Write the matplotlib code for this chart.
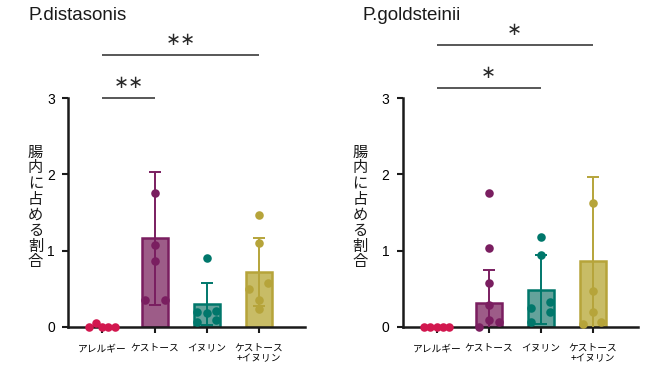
import matplotlib
matplotlib.use("Agg")
import matplotlib.pyplot as plt
import numpy as np

# ---------------- data ----------------
categories = ['アレルギー', 'ケストース', 'イヌリン', 'ケストース\n+イヌリン']

dist_title = 'P.distasonis'
dist_mean = [0.01, 1.16, 0.30, 0.72]
dist_sd = [0.02, 0.87, 0.28, 0.45]
dist_points = [
    [0.0, 0.05, 0.0, 0.0, 0.0],
    [1.75, 1.07, 0.87, 0.35, 0.35],
    [0.90, 0.20, 0.18, 0.21, 0.07, 0.09],
    [1.47, 1.10, 0.50, 0.58, 0.35, 0.24],
]
dist_sig = [(0, 1, 3.0, '∗∗'), (0, 3, 3.56, '∗∗')]

gold_title = 'P.goldsteinii'
gold_mean = [0.0, 0.32, 0.49, 0.87]
gold_sd = [0.0, 0.43, 0.45, 1.10]
gold_points = [
    [0.0, 0.0, 0.0, 0.0, 0.0],
    [1.75, 1.03, 0.57, 0.29, 0.09, 0.0, 0.06],
    [1.18, 0.94, 0.33, 0.25, 0.20, 0.06],
    [1.62, 0.47, 0.19, 0.04, 0.07],
]
gold_sig = [(0, 2, 3.13, '∗'), (0, 3, 3.69, '∗')]

ylabel = '腸内に占める割合'
yticks = [0, 1, 2, 3]

# ---------------- layout / style ----------------
dist_offsets = [
    [-0.26, -0.13, 0.0, 0.11, 0.24],
    [0.0, 0.0, 0.0, -0.19, 0.19],
    [0.0, -0.19, 0.0, 0.17, -0.19, 0.17],
    [0.0, 0.0, -0.19, 0.18, 0.0, 0.0],
]
gold_offsets = [
    [-0.25, -0.13, 0.0, 0.11, 0.24],
    [0.0, 0.0, 0.0, 0.0, 0.0, -0.19, 0.19],
    [0.0, 0.0, 0.17, -0.19, 0.17, -0.18],
    [0.0, 0.0, 0.0, -0.19, 0.16],
]
dark = ['#D2184F', '#7A1E60', '#00776B', '#B6A43A']
fill = ['#D2184F', '#9D5C88', '#64A29B', '#C8BC66']

JP = ['Noto Sans CJK JP', 'DejaVu Sans']
LAT = ['Liberation Sans', 'DejaVu Sans']
axis_col = '#1a1a1a'

fig = plt.figure(figsize=(6.67, 3.78), dpi=100)

def panel(rect, title, title_x, mean, sd, points, offsets, sig, ylab_x):
    ax = fig.add_axes(rect)
    x = np.arange(len(categories))
    ax.bar(x, mean, width=0.50, color=fill, edgecolor=dark, linewidth=1.8, zorder=2)
    for i in range(len(categories)):
        if sd[i] > 0.03:
            ax.errorbar(x[i], mean[i], yerr=sd[i], color=dark[i], elinewidth=1.4,
                        capsize=4.5, capthick=1.4, zorder=3, fmt='none')
        px = x[i] + np.array(offsets[i])
        ax.scatter(px, points[i], s=38, color=dark[i], zorder=4, clip_on=False,
                   linewidths=0)
    ax.set_xlim(-0.66, 3.88)
    ax.set_ylim(0, 3)
    ax.set_yticks(yticks)
    ax.set_yticklabels([str(t) for t in yticks], family=LAT, fontsize=10)
    ax.set_xticks(x)
    ax.set_xticklabels(categories, family=JP, fontsize=7, linespacing=1.05)
    for s in ['top', 'right']:
        ax.spines[s].set_visible(False)
    for s in ['left', 'bottom']:
        ax.spines[s].set_linewidth(1.8)
        ax.spines[s].set_color(axis_col)
    ax.tick_params(axis='both', length=4.5, width=1.5, color=axis_col)
    ax.tick_params(axis='y', pad=5)
    ax.tick_params(axis='x', pad=7)
    for a, b, y, txt in sig:
        ax.plot([a, b], [y, y], color='#2a2a2a', lw=1.1, clip_on=False,
                solid_capstyle='butt')
        ax.annotate(txt, xy=((a + b) / 2, y), xytext=(0, 11), textcoords='offset points',
                    ha='center', va='center', fontsize=13, family=['DejaVu Sans'],
                    color='#2a2a2a', annotation_clip=False)
    fig.text(title_x, 1 - 15 / 378, title, family=LAT, fontsize=13.5,
             ha='left', va='center', color='#1a1a1a')
    # vertical stacked y label (one character per line)
    fig.text(ylab_x, 1 - 207 / 378, '\n'.join(ylabel), family=JP, fontsize=11,
             ha='center', va='center', multialignment='center', linespacing=0.9,
             color='#1a1a1a')
    return ax

panel([68 / 667, 51 / 378, 237 / 667, 229 / 378], dist_title, 29 / 667,
      dist_mean, dist_sd, dist_points, dist_offsets, dist_sig, 35.5 / 667)
panel([402.5 / 667, 51 / 378, 236 / 667, 229 / 378], gold_title, 362 / 667,
      gold_mean, gold_sd, gold_points, gold_offsets, gold_sig, 360 / 667)

fig.savefig('out.png', dpi=100)
